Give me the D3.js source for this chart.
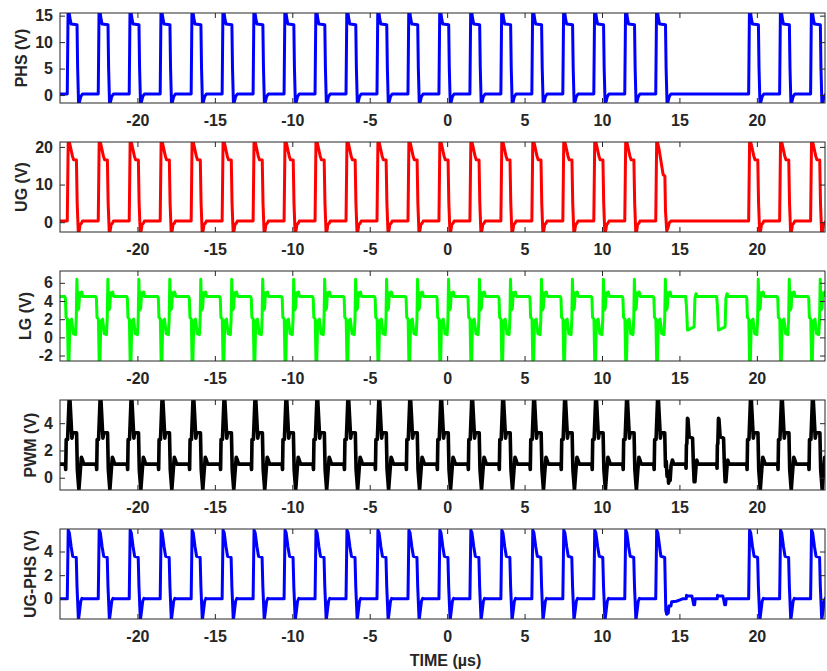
<!DOCTYPE html>
<html>
<head>
<meta charset="utf-8">
<script src="https://cdn.jsdelivr.net/npm/d3@7"></script>
<style>
  body { margin: 0; background: #fff; }
  svg text { font-family: "Liberation Sans", Arial, sans-serif; font-weight: bold; fill: #262626; }
  .axis line, .axis path { stroke: #262626; }
</style>
</head>
<body>
<div id="chart"></div>
<script>
/* Time axis and the switching events (µs). */
const timeDomain = [-25, 24.4];
const timeTicks = [-20, -15, -10, -5, 0, 5, 10, 15, 20];
const pulseTimes = [-24.5, -22.5, -20.5, -18.5, -16.5, -14.5, -12.5, -10.5, -8.5,
                    -6.5, -4.5, -2.5, -0.5, 1.5, 3.5, 5.5, 7.5, 9.5, 11.5, 13.5,
                    19.5, 21.5, 23.5];
const lastPulse = 13.5;        // last pulse before the skipped cycles
const skipTimes = [15.5, 17.5]; // cycles where the high side does not switch

/* Channel names, units and ranges. */
const channels = ["PHS (V)", "UG (V)", "LG (V)", "PWM (V)", "UG-PHS (V)"];
const colors = ["#0000ff", "#ff0000", "#00ff00", "#000000", "#0000ff"];
const yDomains = [[-1.5, 15.5], [-2.6, 21.3], [-2.6, 7.3], [-0.9, 5.7], [-1.7, 5.9]];
const yTicks = [[0, 5, 10, 15], [0, 10, 20], [-2, 0, 2, 4, 6], [0, 2, 4], [0, 2, 4]];
const baselines = [0.2, 0.3, 4.5, 1.0, 0.0];

const phsPulse = [[-0.03, 0.2], [0.02, 15.6], [0.1, 15.4], [0.16, 14.2], [0.22, 13.4], [0.6, 13.3],
                  [0.64, 5], [0.7, -1.6], [0.76, -1.3], [0.84, -0.3], [0.95, 0.2]];
const ugPulse = [[-0.03, 0.3], [0.03, 21.5], [0.12, 21.0], [0.3, 17.6], [0.38, 16.6], [0.56, 16.5],
                 [0.61, 5], [0.68, -2.7], [0.74, -2.3], [0.8, -0.6], [0.88, -0.3], [0.95, 0.3]];
const ugLast = [[-0.03, 0.3], [0.03, 21.5], [0.1, 21.0], [0.2, 19.0], [0.45, 12.6], [0.56, 12.3],
                [0.6, 3], [0.68, -2.3], [0.75, -1.6], [0.85, -0.1], [0.95, 0.3]];
const lgPulse = [[-0.2, 4.5], [-0.15, 4.3], [-0.11, 2.2], [-0.02, 2.0], [0.03, -2.7], [0.08, -2.7],
                 [0.14, 1.8], [0.25, 2.0], [0.36, 0.4], [0.5, 0.3], [0.55, 2.0], [0.59, 6.4],
                 [0.65, 3.0], [0.71, 3.2], [0.77, 4.9], [0.84, 4.6], [0.9, 5.0], [0.97, 4.5]];
const lgSkip = [[-0.1, 4.5], [-0.05, 3.5], [0.02, 0.8], [0.4, 1.1], [0.45, 1.2], [0.5, 4.3],
                [0.57, 4.8], [0.65, 4.5]];
const pwmPulse = [[-0.16, 1.0], [-0.13, 0.6], [-0.1, 2.8], [-0.01, 2.8], [0.09, 5.8], [0.14, 5.8],
                  [0.27, 2.9], [0.32, 3.3], [0.57, 3.3], [0.62, 0.6], [0.72, -0.9], [0.81, 0.5],
                  [0.88, 1.5], [0.95, 1.3], [1.03, 1.0]];
const pwmLast = [[-0.16, 1.0], [-0.13, 0.6], [-0.1, 2.8], [-0.01, 2.8], [0.09, 5.8], [0.14, 5.8],
                 [0.27, 2.9], [0.32, 3.3], [0.55, 3.3], [0.6, 0.8], [0.65, 1.2], [0.7, 0.1],
                 [0.75, 0.5], [0.8, -0.4], [0.85, 0.2], [0.9, -0.2], [0.96, 0.9], [1.05, 1.3],
                 [1.13, 1.0]];
const pwmSkip = [[-0.1, 1.0], [-0.07, 0.7], [-0.05, 2.4], [-0.02, 2.5], [0.02, 4.35], [0.05, 4.3],
                 [0.13, 3.0], [0.35, 2.9], [0.4, 1.0], [0.45, -0.3], [0.5, -0.3], [0.57, 0.8],
                 [0.62, 1.3], [0.7, 1.0]];
const diffPulse = [[-0.03, 0.0], [0.03, 5.8], [0.1, 5.6], [0.22, 4.4], [0.32, 3.6], [0.55, 3.5],
                   [0.6, 1.0], [0.69, -1.8], [0.75, -1.2], [0.84, -0.2], [0.92, 0.05], [1.0, 0.0]];
const diffLast = [[-0.03, 0.0], [0.03, 5.8], [0.1, 5.6], [0.3, 3.6], [0.55, 3.5], [0.62, -1.0],
                  [0.68, -1.3], [0.78, -1.2], [0.82, -0.6], [0.95, -0.6], [1.0, -0.25],
                  [1.3, -0.2], [1.5, -0.1], [1.7, 0.0]];
const diffSkip = [[-0.06, 0.0], [-0.04, 0.3], [0.0, 0.25], [0.3, 0.25], [0.35, 0.0], [0.42, -0.5],
                  [0.48, -0.5], [0.52, 0.0]];

/* Which shape each channel uses for the normal, last and skipped cycles. */
const shapes = [
  {normal: phsPulse, last: phsPulse, skip: null},
  {normal: ugPulse, last: ugLast, skip: null},
  {normal: lgPulse, last: lgPulse, skip: lgSkip},
  {normal: pwmPulse, last: pwmLast, skip: pwmSkip},
  {normal: diffPulse, last: diffLast, skip: diffSkip}
];

/* Layout. */
const width = 827, height = 671;
const left = 60, right = 825;
const panelTop = 13, panelHeight = 90, panelStep = 129;
const strokeWidths = [3, 3, 3, 3.6, 3];

const svg = d3.select("#chart").append("svg")
  .attr("width", width)
  .attr("height", height);

const xscale = d3.scaleLinear().domain(timeDomain).range([left, right]);
const plain = d => String(d);  // hyphen minus, no decimals, like the scope export

/* Lay the pulse shapes at the edge times to get one trace. */
function buildTrace(i) {
  const s = shapes[i];
  let events = pulseTimes.map(t => ({t: t, shape: t === lastPulse ? s.last : s.normal}));
  if (s.skip) {
    events = events.concat(skipTimes.map(t => ({t: t, shape: s.skip})));
  }
  events.sort((a, b) => a.t - b.t);
  let pts = [[timeDomain[0], baselines[i]]];
  events.forEach(e => e.shape.forEach(p => pts.push([e.t + p[0], p[1]])));
  pts.push([timeDomain[1], baselines[i]]);
  return pts;
}

channels.forEach((name, i) => {
  const top = panelTop + i * panelStep;
  const bottom = top + panelHeight;
  const yscale = d3.scaleLinear().domain(yDomains[i]).range([bottom, top]);
  const g = svg.append("g");

  g.append("clipPath").attr("id", "clip" + i)
    .append("rect")
    .attr("x", left).attr("y", top)
    .attr("width", right - left).attr("height", panelHeight);

  const line = d3.line()
    .x(d => xscale(d[0]))
    .y(d => yscale(d[1]));

  g.append("path")
    .attr("d", line(buildTrace(i)))
    .attr("clip-path", "url(#clip" + i + ")")
    .attr("fill", "none")
    .attr("stroke", colors[i])
    .attr("stroke-width", strokeWidths[i])
    .attr("stroke-linejoin", "round");

  /* Axes: MATLAB-style box, ticks pointing inwards on all sides. */
  g.append("g").attr("class", "axis")
    .attr("transform", "translate(0," + bottom + ")")
    .call(d3.axisBottom(xscale).tickValues(timeTicks).tickFormat(plain)
      .tickSize(-5).tickSizeOuter(0).tickPadding(12))
    .call(a => a.select(".domain").remove())
    .selectAll("text").attr("font-size", 16).attr("fill", "#262626");
  g.append("g").attr("class", "axis")
    .attr("transform", "translate(0," + top + ")")
    .call(d3.axisTop(xscale).tickValues(timeTicks).tickSize(-5).tickFormat(""))
    .call(a => a.select(".domain").remove());
  const yax = g.append("g").attr("class", "axis")
    .attr("transform", "translate(" + left + ",0)")
    .call(d3.axisLeft(yscale).tickValues(yTicks[i]).tickFormat(plain)
      .tickSize(-5).tickSizeOuter(0).tickPadding(7))
    .call(a => a.select(".domain").remove());
  yax.selectAll("text").attr("font-size", 16).attr("fill", "#262626");
  g.append("g").attr("class", "axis")
    .attr("transform", "translate(" + right + ",0)")
    .call(d3.axisRight(yscale).tickValues(yTicks[i]).tickSize(-5).tickFormat(""))
    .call(a => a.select(".domain").remove());

  g.append("rect")
    .attr("x", left).attr("y", top)
    .attr("width", right - left).attr("height", panelHeight)
    .attr("fill", "none")
    .attr("stroke", "#262626")
    .attr("stroke-width", 1);

  /* Y label sits just left of the widest tick label. */
  const bb = yax.node().getBBox();
  const lx = left + bb.x - 8;
  g.append("text")
    .attr("transform", "translate(" + lx + "," + (top + panelHeight / 2) + ") rotate(-90)")
    .attr("text-anchor", "middle")
    .attr("font-size", 16)
    .text(name);
});

svg.append("text")
  .attr("x", (left + right) / 2 + 3)
  .attr("y", 666)
  .attr("text-anchor", "middle")
  .attr("font-size", 16)
  .text("TIME (µs)");
</script>
</body>
</html>
